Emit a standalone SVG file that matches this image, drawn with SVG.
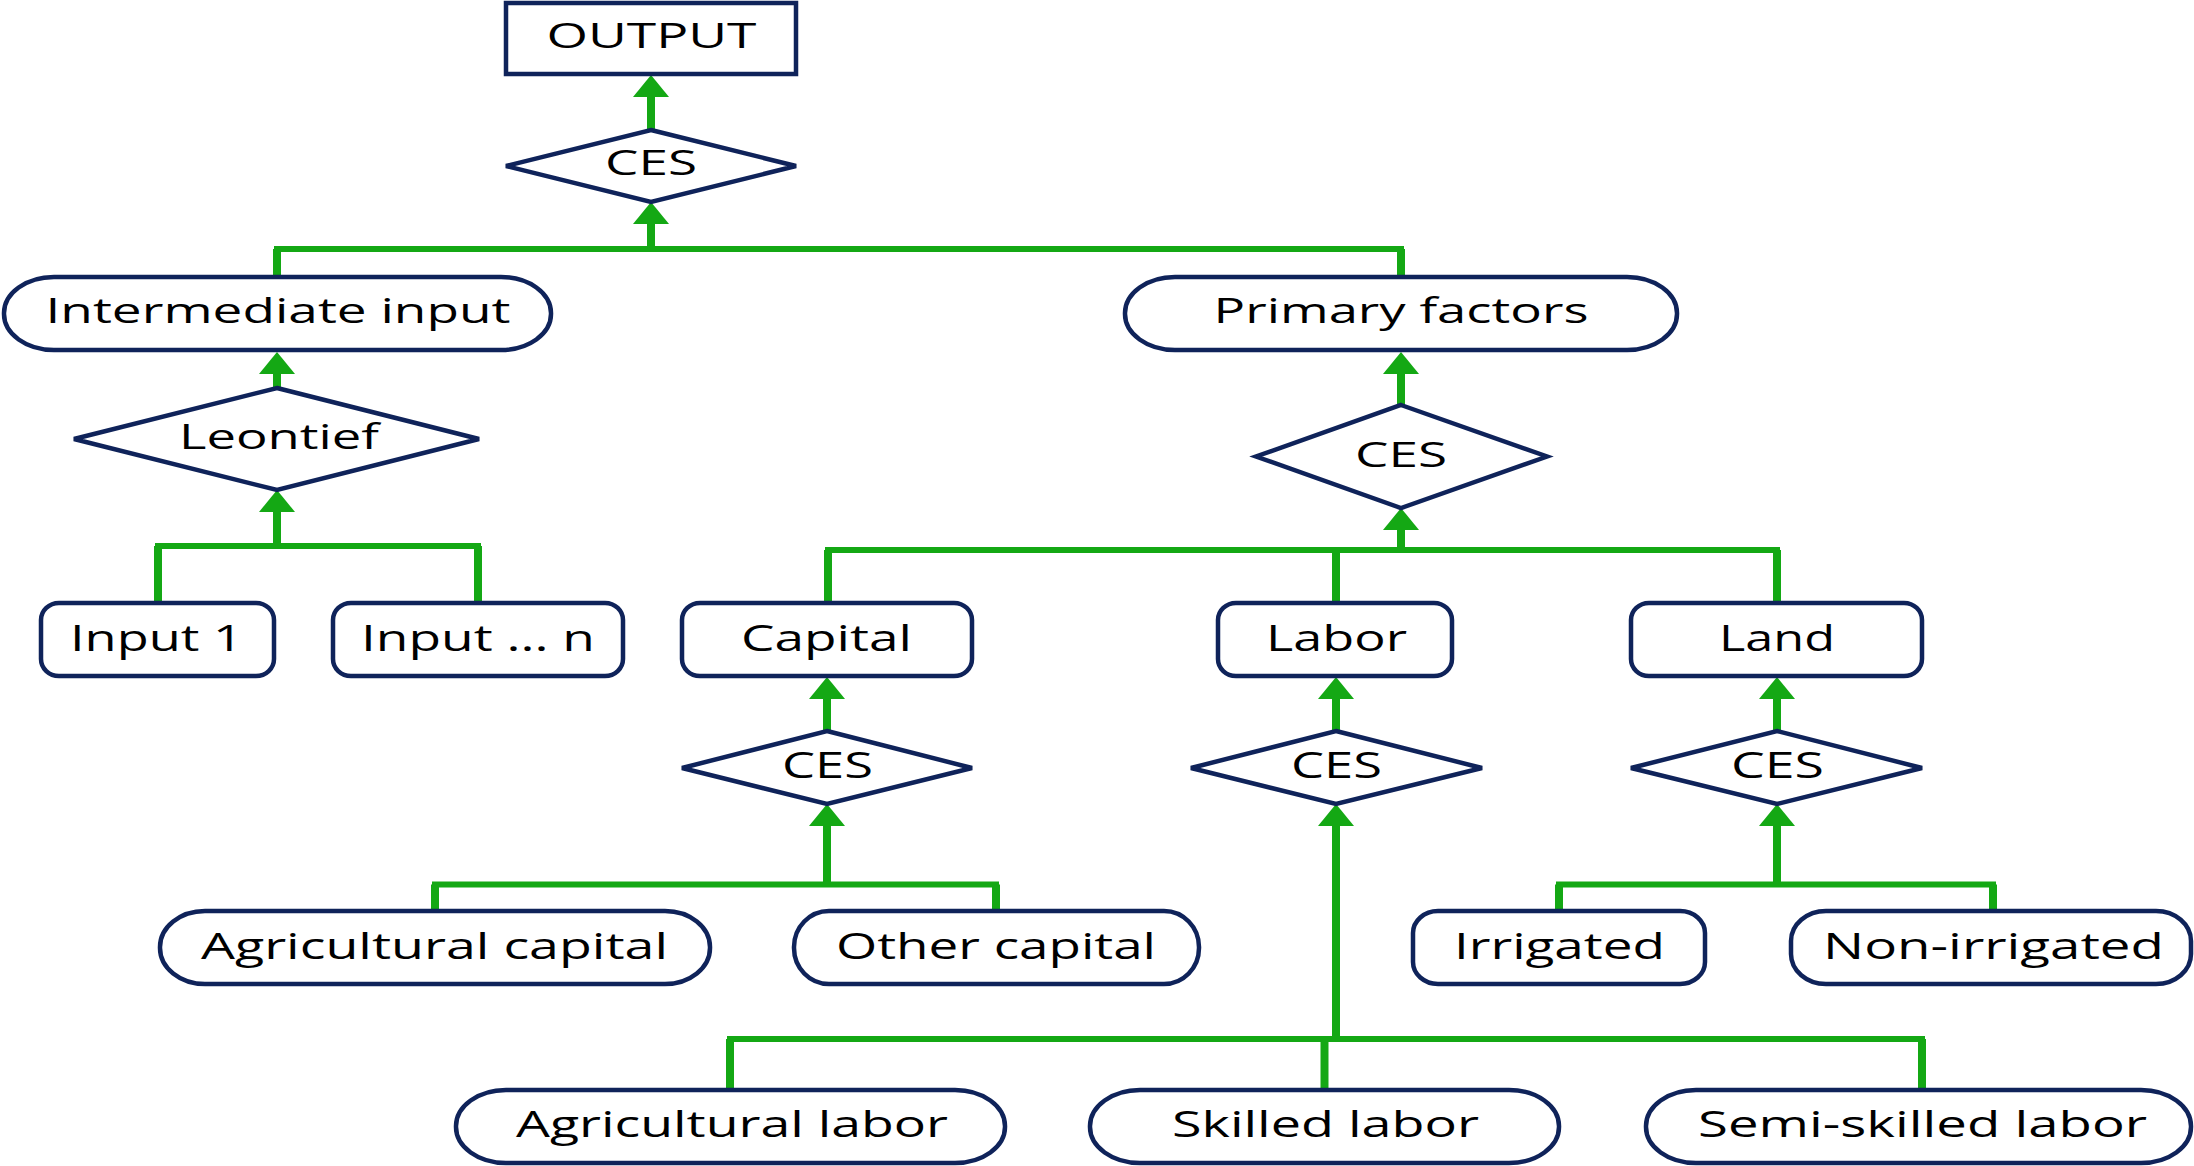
<svg xmlns="http://www.w3.org/2000/svg" width="2194" height="1166" viewBox="0 0 2194 1166">
<style>
.box{fill:#fff;stroke:#0f235a;stroke-width:4.5}
.t{font-family:"Open Sans","Noto Sans","DejaVu Sans",sans-serif;fill:#000;text-anchor:middle}
.t1{font-size:34px}
.t2{font-size:36px}
.h{stroke:#14a814;stroke-width:6;fill:none;stroke-linecap:square}
.v{stroke:#14a814;stroke-width:8;fill:none}
</style>
<defs>
<marker id="ah" viewBox="0 0 22 36" refX="0" refY="18" markerWidth="22" markerHeight="36" markerUnits="userSpaceOnUse" orient="auto">
<path d="M0,0 L22,18 L0,36 z" fill="#14a814"/>
</marker>
</defs>
<rect width="2194" height="1166" fill="#fff"/>

<g id="connectors">
<line class="v" x1="651" y1="130" x2="651" y2="97" marker-end="url(#ah)"/>
<line class="v" x1="277" y1="277" x2="277" y2="249"/>
<line class="v" x1="1401" y1="277" x2="1401" y2="249"/>
<line class="h" x1="277" y1="249" x2="1401" y2="249"/>
<line class="v" x1="651" y1="251" x2="651" y2="224" marker-end="url(#ah)"/>
<line class="v" x1="277" y1="388" x2="277" y2="374" marker-end="url(#ah)"/>
<line class="v" x1="158" y1="603" x2="158" y2="546"/>
<line class="v" x1="478" y1="603" x2="478" y2="546"/>
<line class="h" x1="158" y1="546" x2="478" y2="546"/>
<line class="v" x1="277" y1="548" x2="277" y2="512" marker-end="url(#ah)"/>
<line class="v" x1="1401" y1="405" x2="1401" y2="374" marker-end="url(#ah)"/>
<line class="v" x1="828" y1="603" x2="828" y2="550"/>
<line class="v" x1="1336" y1="603" x2="1336" y2="550"/>
<line class="v" x1="1777" y1="603" x2="1777" y2="550"/>
<line class="h" x1="828" y1="550" x2="1777" y2="550"/>
<line class="v" x1="1401" y1="552" x2="1401" y2="530" marker-end="url(#ah)"/>
<line class="v" x1="827" y1="731" x2="827" y2="699" marker-end="url(#ah)"/>
<line class="v" x1="827" y1="886" x2="827" y2="826" marker-end="url(#ah)"/>
<line class="h" x1="435" y1="884.5" x2="996" y2="884.5"/>
<line class="v" x1="435" y1="911" x2="435" y2="884.5"/>
<line class="v" x1="996" y1="911" x2="996" y2="884.5"/>
<line class="v" x1="1336" y1="731" x2="1336" y2="699" marker-end="url(#ah)"/>
<line class="v" x1="1336" y1="1041" x2="1336" y2="826" marker-end="url(#ah)"/>
<line class="h" x1="730" y1="1039" x2="1922" y2="1039"/>
<line class="v" x1="730" y1="1090" x2="730" y2="1039"/>
<line class="v" x1="1324.5" y1="1090" x2="1324.5" y2="1039"/>
<line class="v" x1="1922" y1="1090" x2="1922" y2="1039"/>
<line class="v" x1="1777" y1="731" x2="1777" y2="699" marker-end="url(#ah)"/>
<line class="v" x1="1777" y1="886" x2="1777" y2="826" marker-end="url(#ah)"/>
<line class="h" x1="1559" y1="884.5" x2="1993" y2="884.5"/>
<line class="v" x1="1559" y1="911" x2="1559" y2="884.5"/>
<line class="v" x1="1993" y1="911" x2="1993" y2="884.5"/>
</g>

<g id="output"><rect class="box" x="506" y="3" width="290" height="71"/><text class="t t1" x="651.5" y="48" textLength="210" lengthAdjust="spacingAndGlyphs">OUTPUT</text></g>
<g id="ces-top"><polygon class="box" points="651,130 796,166 651,202 506,166"/><text class="t t1" x="651" y="175" textLength="92" lengthAdjust="spacingAndGlyphs">CES</text></g>
<g id="intermediate-input"><rect class="box" x="4" y="277" width="547" height="73" rx="50" ry="36"/><text class="t t1" x="278" y="323" textLength="465" lengthAdjust="spacingAndGlyphs">Intermediate input</text></g>
<g id="primary-factors"><rect class="box" x="1125" y="277" width="552" height="73" rx="50" ry="36"/><text class="t t1" x="1401" y="323" textLength="375" lengthAdjust="spacingAndGlyphs">Primary factors</text></g>
<g id="leontief"><polygon class="box" points="277,388 479,439 277,490 74,439"/><text class="t t1" x="279" y="449" textLength="200" lengthAdjust="spacingAndGlyphs">Leontief</text></g>
<g id="ces-primary"><polygon class="box" points="1401,405 1547,456.5 1401,508 1256,456.5"/><text class="t t1" x="1401" y="467" textLength="92" lengthAdjust="spacingAndGlyphs">CES</text></g>

<g id="input-1"><rect class="box" x="41" y="603" width="233" height="73" rx="18" ry="17"/><text class="t t2" x="156.5" y="651" textLength="173" lengthAdjust="spacingAndGlyphs">Input 1</text></g>
<g id="input-n"><rect class="box" x="333" y="603" width="290" height="73" rx="18" ry="17"/><text class="t t2" x="478" y="651" textLength="234" lengthAdjust="spacingAndGlyphs">Input ... n</text></g>
<g id="capital"><rect class="box" x="682" y="603" width="290" height="73" rx="18" ry="17"/><text class="t t2" x="826.5" y="651" textLength="171" lengthAdjust="spacingAndGlyphs">Capital</text></g>
<g id="labor"><rect class="box" x="1218" y="603" width="234" height="73" rx="18" ry="17"/><text class="t t2" x="1336.5" y="651" textLength="141" lengthAdjust="spacingAndGlyphs">Labor</text></g>
<g id="land"><rect class="box" x="1631" y="603" width="291" height="73" rx="18" ry="17"/><text class="t t2" x="1777" y="651" textLength="116" lengthAdjust="spacingAndGlyphs">Land</text></g>

<g id="ces-capital"><polygon class="box" points="827,731 972,768 827,804 682,768"/><text class="t t2" x="827.5" y="778" textLength="91" lengthAdjust="spacingAndGlyphs">CES</text></g>
<g id="ces-labor"><polygon class="box" points="1336,731 1482,768 1336,804 1191,768"/><text class="t t2" x="1336.5" y="778" textLength="91" lengthAdjust="spacingAndGlyphs">CES</text></g>
<g id="ces-land"><polygon class="box" points="1777,731 1922,768 1777,804 1631,768"/><text class="t t2" x="1777.5" y="778" textLength="93" lengthAdjust="spacingAndGlyphs">CES</text></g>

<g id="agricultural-capital"><rect class="box" x="160" y="911" width="550" height="73" rx="45" ry="36"/><text class="t t2" x="434.5" y="959" textLength="467" lengthAdjust="spacingAndGlyphs">Agricultural capital</text></g>
<g id="other-capital"><rect class="box" x="794" y="911" width="405" height="73" rx="35" ry="36"/><text class="t t2" x="996" y="959" textLength="320" lengthAdjust="spacingAndGlyphs">Other capital</text></g>
<g id="irrigated"><rect class="box" x="1413" y="911" width="292" height="73" rx="25" ry="22"/><text class="t t2" x="1559.5" y="959" textLength="211" lengthAdjust="spacingAndGlyphs">Irrigated</text></g>
<g id="non-irrigated"><rect class="box" x="1791" y="911" width="400" height="73" rx="35" ry="30"/><text class="t t2" x="1993.5" y="959" textLength="341" lengthAdjust="spacingAndGlyphs">Non-irrigated</text></g>

<g id="agricultural-labor"><rect class="box" x="456" y="1090" width="549" height="73" rx="50" ry="36"/><text class="t t2" x="732" y="1137" textLength="432" lengthAdjust="spacingAndGlyphs">Agricultural labor</text></g>
<g id="skilled-labor"><rect class="box" x="1090" y="1090" width="469" height="73" rx="50" ry="36"/><text class="t t2" x="1325.5" y="1137" textLength="307" lengthAdjust="spacingAndGlyphs">Skilled labor</text></g>
<g id="semi-skilled-labor"><rect class="box" x="1646" y="1090" width="545" height="73" rx="50" ry="36"/><text class="t t2" x="1922.5" y="1137" textLength="449" lengthAdjust="spacingAndGlyphs">Semi-skilled labor</text></g>
</svg>
